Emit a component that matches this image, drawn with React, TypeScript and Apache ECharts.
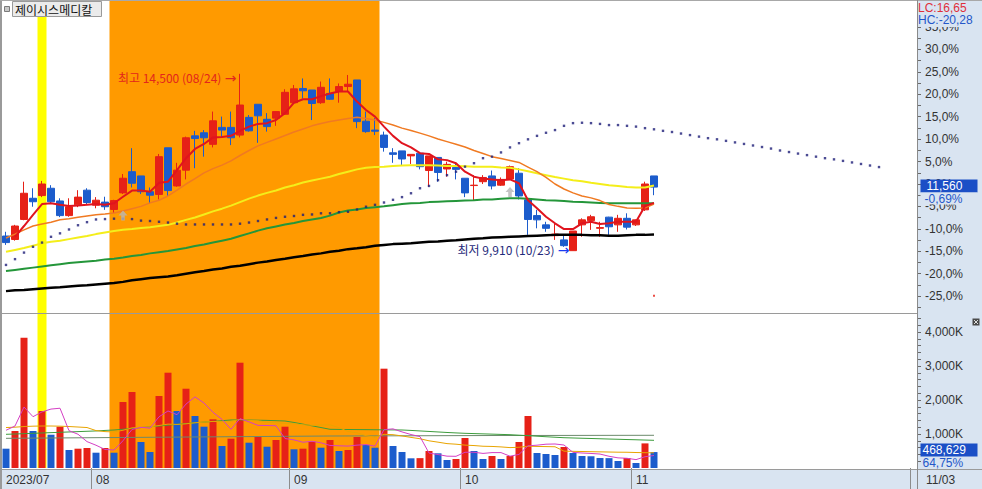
import React, { useEffect, useRef } from 'react';
import * as echarts from 'echarts';

// ---------------- data ----------------
const TITLE = '제이시스메디칼';
const YEAR = '2023';
const DATES = [
  '07/18','07/19','07/20','07/21','07/24','07/25','07/26','07/27','07/28','07/31',
  '08/01','08/02','08/03','08/04','08/07','08/08','08/09','08/10','08/11','08/14','08/16','08/17','08/18','08/21','08/22','08/23','08/24','08/25','08/28','08/29','08/30','08/31',
  '09/01','09/04','09/05','09/06','09/07','09/08','09/11','09/12','09/13','09/14','09/15','09/18','09/19','09/20','09/21','09/22','09/25','09/26','09/27',
  '10/04','10/05','10/06','10/10','10/11','10/12','10/13','10/16','10/17','10/18','10/19','10/20','10/23','10/24','10/25','10/26','10/27','10/30','10/31',
  '11/01','11/02','11/03',
];
const OPEN = [
  10290,10200,10720,11270,11340,11530,11200,10820,11100,11480,
  11090,11170,10980,11410,11960,11850,11440,11370,12580,11590,
  12000,12890,12970,12670,13110,13110,12910,13370,13710,13320,
  13350,13450,13750,14120,14080,13750,13990,14040,14170,14340,
  13270,13040,12910,12450,12500,12370,12440,11990,12330,12030,
  12070,11790,11600,11700,11850,11610,11770,11920,11230,10820,
  10580,10300,10190,9910,10580,10690,10490,10780,10580,10750,
  10580,10970,11850,
];
const CLOSE = [
  10120,10550,11400,11180,11640,11180,10820,11050,11300,11160,
  11220,11050,11210,11790,11660,11440,11350,12350,11470,12000,
  12840,12820,12840,13280,13040,12840,13690,13020,13410,13130,
  13520,14020,14110,14060,13730,14150,13840,14170,14230,13260,
  13000,13010,12590,12410,12290,12410,12090,12370,11940,12150,
  12020,11410,11610,11810,11590,11760,12090,11330,10720,10710,
  10490,10340,10040,10420,10710,10790,10510,10530,10750,10520,
  10710,11640,11560,
];
const LOW = [
  10060,10170,10700,11050,11300,11140,10780,10790,11040,11100,
  11010,10970,10890,11380,11550,11380,11140,11240,11310,11570,
  11760,12050,12350,12590,12850,12650,12850,13000,12710,13000,
  13150,13430,13730,13860,13300,13720,13820,13750,14040,13090,
  12970,12910,12480,12190,12110,12160,12020,11570,11700,11830,
  11760,11300,11220,11640,11500,11590,11740,11240,10320,10490,
  10400,10190,10010,9910,10270,10450,10270,10320,10400,10460,
  10550,10940,11350,
];
const HIGH = [
  10400,10580,11700,11530,11720,11610,11270,11270,11480,11530,
  11300,11310,11230,11900,12570,11850,11550,12420,12580,12190,
  12870,13020,13040,13520,13390,13520,14500,13430,13710,13480,
  13520,14100,14210,14380,14080,14300,14380,14250,14470,14340,
  13520,13350,13000,12570,12500,12410,12440,12370,12330,12220,
  12190,11790,11870,11870,11990,11810,12120,12050,11240,10970,
  10660,10620,10290,10420,10750,10840,10660,10790,10840,10880,
  10720,11700,11850,
];
// price moving averages
const MA5 = [
  null,10270,10550,10840,11120,11140,11100,11070,11080,11100,
  11120,11100,11140,11310,11470,11470,11440,11670,11700,12000,
  12310,12550,12680,12850,12860,12890,13020,13130,13200,13220,
  13300,13480,13750,13840,13840,13920,13990,14040,14040,13780,
  13560,13390,13130,12890,12700,12590,12440,12420,12280,12260,
  12180,11960,11830,11780,11760,11740,11760,11660,11220,11010,
  10790,10620,10470,10470,10620,10660,10600,10620,10660,10660,
  10660,11070,11150,
];
const MA20 = [
  10240,10340,10450,10550,10600,10650,10710,10740,10780,10810,
  10840,10860,10890,10940,11000,11060,11150,11220,11330,11480,
  11640,11780,11930,12040,12130,12240,12380,12510,12630,12720,
  12810,12900,12990,13070,13150,13210,13260,13300,13340,13370,
  13340,13300,13240,13170,13090,13030,12960,12890,12810,12740,
  12670,12600,12510,12430,12350,12300,12250,12200,12080,11960,
  11810,11640,11510,11410,11330,11280,11210,11110,11060,11020,
  11010,11020,11120,
];
const MA60 = [
  9880,9930,9980,10040,10100,10140,10170,10210,10250,10290,
  10340,10380,10420,10450,10470,10500,10520,10550,10580,10640,
  10710,10770,10850,10930,11000,11080,11170,11260,11340,11410,
  11470,11550,11610,11680,11730,11780,11830,11900,11960,12020,
  12060,12080,12090,12110,12120,12130,12130,12130,12120,12110,
  12110,12100,12090,12090,12090,12070,12060,12020,11970,11920,
  11870,11820,11780,11740,11710,11670,11640,11610,11590,11560,
  11550,11550,11600,
];
const MA120 = [
  9380,9410,9440,9470,9500,9530,9560,9590,9610,9630,
  9650,9680,9700,9730,9770,9800,9840,9870,9900,9940,
  9980,10030,10070,10120,10170,10220,10290,10360,10430,10490,
  10540,10590,10630,10680,10720,10760,10820,10900,10950,10980,
  11020,11040,11060,11090,11120,11140,11150,11170,11180,11190,
  11200,11210,11220,11240,11240,11260,11270,11270,11260,11240,
  11220,11210,11200,11180,11170,11160,11150,11140,11140,11140,
  11140,11140,11140,
];
const MA240 = [
  8860,8880,8890,8910,8930,8950,8960,8980,9000,9010,
  9030,9050,9070,9100,9140,9170,9200,9220,9240,9270,
  9310,9350,9380,9420,9450,9490,9520,9560,9600,9630,
  9670,9700,9740,9770,9810,9840,9880,9910,9950,9970,
  10000,10040,10060,10080,10090,10100,10120,10140,10150,10170,
  10180,10200,10220,10230,10250,10260,10270,10280,10290,10300,
  10310,10320,10320,10320,10320,10310,10310,10300,10300,10310,
  10320,10320,10330,
];
// leading dotted line (runs past the last candle)
const SPAN = [
  9540,9690,9860,10010,10120,10270,10360,10460,10570,10650,
  10720,10730,10740,10740,10730,10690,10680,10660,10640,10610,
  10590,10590,10590,10590,10590,10590,10610,10640,10680,10720,
  10760,10790,10810,10840,10850,10880,10880,10910,10920,10980,
  11050,11100,11160,11230,11300,11400,11530,11590,11740,11870,
  11960,12090,12180,12310,12350,12460,12590,12700,12800,12890,
  12970,13040,13150,13220,13230,13220,13200,13170,13170,13150,
  13130,13090,13060,13020,12990,12950,12910,12870,12830,12800,
  12760,12720,12680,12640,12600,12560,12510,12470,12430,12390,
  12350,12310,12280,12240,12200,12160,12120,12080,
];
// volume, thousands of shares
const VOLUME_K = [
  568,1088,3832,1088,1676,979,1215,529,568,588,
  450,588,450,1941,2235,765,471,2118,2803,1676,
  2332,1529,1215,1432,647,862,3097,744,921,626,
  824,1215,550,568,774,597,824,500,529,912,
  676,597,2921,647,471,285,290,500,432,235,
  265,882,500,265,353,265,353,765,1529,441,
  412,382,618,441,353,345,294,290,206,294,
  147,723.751,468.629,
];
const VOL_MA5_K = [
  1109,1235,1794,1509,1650,1733,1758,1097,993,776,
  670,545,529,803,1133,1196,1172,1506,1678,1567,
  1880,2092,1911,1637,1431,1137,1451,1356,1254,1250,
  1242,866,827,757,786,741,663,653,645,672,
  688,643,1127,1151,1062,984,923,439,396,348,
  344,463,463,429,453,453,347,400,653,671,
  700,706,676,459,441,428,410,345,298,286,
  246,332,368,
];
const VOL_MA20_K = [
  1190,1200,1220,1230,1235,1235,1230,1220,1205,1190,
  1100,1070,1060,1110,1180,1200,1210,1250,1290,1281,
  1300,1330,1350,1370,1360,1370,1430,1400,1390,1345,
  1330,1310,1300,1270,1258,1265,1268,1187,1073,1035,
  952,906,991,980,943,900,860,800,760,717,
  700,673,660,640,634,620,600,610,640,634,
  630,625,495,490,485,480,475,470,465,463,
  455,450,447,
];
const VOL_MA60_K = [
  991,1000,1010,1020,1030,1040,1050,1060,1070,1080,
  1090,1105,1118,1140,1165,1190,1212,1235,1260,1285,
  1308,1330,1350,1370,1392,1412,1415,1410,1405,1400,
  1392,1382,1340,1290,1240,1190,1138,1135,1132,1130,
  1128,1125,1122,1120,1118,1105,1090,1075,1060,1045,
  1032,1020,1012,1004,996,988,980,965,950,935,
  920,905,891,883,875,868,860,852,845,837,
  830,822,814,
];
// nearly flat line: read at a few places only
const VOL_MA120_POINTS: [number, number][] = [[0, 873], [17, 905], [36, 941], [54, 955], [72, 962]];

const ORANGE_RANGE = ['08/03', '09/14'];
const YELLOW_DAYS = ['07/24'];
const SIGNAL_DATES = ['08/04', '10/12'];
const SIGNAL_PRICES = [10820, 11430];
const DOT_DATE = '11/03';
const DOT_PRICE = 8740;
const FUTURE_SLOTS = 28;
const PCT_LABELS = [-25, -20, -15, -10, -5, 0, 5, 10, 15, 20, 25, 30, 35];
const PCT_TICKS = [-27.5, -25, -22.5, -20, -17.5, -15, -12.5, -10, -7.5, -5, -2.5, 0, 2.5, 5, 7.5, 10, 12.5, 15, 17.5, 20, 22.5, 25, 27.5, 30, 32.5, 35, 37.5, 40];
const VOL_LABELS_K = [1000, 2000, 3000, 4000];
const VOL_TICKS_K = [200, 400, 600, 800, 1000, 1200, 1400, 1600, 1800, 2000, 2200, 2400, 2600, 2800, 3000, 3200, 3400, 3600, 3800, 4000, 4200, 4400];

// ---------------- style ----------------
const RED = '#e62117';
const BLUE = '#1c5ccc';
const PANEL = '#d9e4f1';
const NUM_FONT = '"Liberation Sans", Arial, sans-serif';
const KR_FONT = '"Noto Sans CJK KR", sans-serif';

const fmtInt = (v: number) => Math.round(v).toLocaleString('en-US');
const fmtDec = (v: number, d: number) => (Math.round(v * Math.pow(10, d)) / Math.pow(10, d) + 0).toFixed(d).replace('.', ',');

function buildOption() {
  const N = DATES.length;
  const CATS = DATES.concat(Array.from({ length: FUTURE_SLOTS }, (_, k) => '+' + (k + 1)));
  const BASE = CLOSE[N - 2];
  const LAST = CLOSE[N - 1];
  const pctToPrice = (p: number) => BASE * (1 + p / 100);
  const PRICE_MIN = pctToPrice(-28.76);
  const PRICE_MAX = pctToPrice(41.03);
  const maxHigh = Math.max(...HIGH);
  const minLow = Math.min(...LOW);
  const iMax = HIGH.indexOf(maxHigh);
  const iMin = LOW.indexOf(minLow);
  const lc = (LAST / minLow - 1) * 100;
  const hc = (LAST / maxHigh - 1) * 100;
  const chg = (LAST / BASE - 1) * 100;
  const lastVol = VOLUME_K[N - 1];
  const volRatio = (lastVol / VOLUME_K[N - 2]) * 100;

  const isMonthStart = (index: number) =>
    index < N && (index === 0 || DATES[index].slice(0, 2) !== DATES[index - 1].slice(0, 2));

  const grid = { left: 1.5, width: 909 };
  const candle = DATES.map((_, i) => [OPEN[i], CLOSE[i], LOW[i], HIGH[i]]);
  const volData = VOLUME_K.map((v, i) => ({
    value: v,
    itemStyle: { color: i > 0 && v > VOLUME_K[i - 1] ? RED : BLUE },
  }));
  const ma120 = DATES.map(() => null as number | null);
  VOL_MA120_POINTS.forEach(([i, v]) => (ma120[i] = v));

  const oS = DATES.indexOf(ORANGE_RANGE[0]);
  const oE = DATES.indexOf(ORANGE_RANGE[1]);
  const areas: any[] = [
    [{ xAxis: oS - 0.5, itemStyle: { color: '#ff9a00', opacity: 1 } }, { xAxis: oE + 0.5 }],
    ...YELLOW_DAYS.map((d) => {
      const k = DATES.indexOf(d);
      return [{ xAxis: k - 0.5, itemStyle: { color: '#ffff00', opacity: 1 } }, { xAxis: k + 0.5 }];
    }),
  ];

  const line = (data: any[], color: string, width: number, x = 0, z = 6, extra: any = {}) => ({
    type: 'line', xAxisIndex: x, yAxisIndex: x, data, showSymbol: false, symbol: 'none', silent: true, z,
    lineStyle: { color, width }, ...extra,
  });

  const hiddenLine = { color: 'rgba(0,0,0,0)', width: 0, opacity: 1 };

  return {
    animation: false,
    grid: [
      { ...grid, top: 0, height: 313 },
      { ...grid, top: 315, height: 153 },
      { ...grid, top: 0, height: 468 },
    ],
    xAxis: [
      { type: 'category', gridIndex: 0, data: CATS, boundaryGap: true, show: false },
      {
        type: 'category', gridIndex: 1, data: CATS, boundaryGap: true,
        axisLine: { show: false },
        axisTick: { show: true, interval: isMonthStart, length: 21, lineStyle: { color: '#8c8c8c' } },
        axisLabel: {
          interval: isMonthStart, align: 'left', margin: 5.5, fontSize: 12, color: '#333', fontFamily: NUM_FONT,
          formatter: (v: string, idx: number) => (idx === 0 ? `${YEAR}/${v.slice(0, 2)}` : v.slice(0, 2)),
        },
      },
      { type: 'value', gridIndex: 2, min: -0.5, max: CATS.length - 0.5, show: false },
    ],
    yAxis: [
      {
        type: 'value', gridIndex: 0, position: 'right', offset: 6.5, min: PRICE_MIN, max: PRICE_MAX, scale: true,
        splitLine: { show: false }, axisLine: { show: false },
        axisTick: { show: true, length: 4, customValues: PCT_TICKS.map(pctToPrice), lineStyle: { color: '#6a6a6a' } },
        axisLabel: {
          customValues: PCT_LABELS.map(pctToPrice), margin: 8, fontSize: 12, color: '#333', fontFamily: NUM_FONT,
          formatter: (v: number) => fmtDec((v / BASE - 1) * 100, 1) + '%',
        },
      },
      {
        type: 'value', gridIndex: 1, position: 'right', offset: 6.5, min: 0, max: 4500,
        splitLine: { show: false }, axisLine: { show: false },
        axisTick: { show: true, length: 4, customValues: VOL_TICKS_K, lineStyle: { color: '#6a6a6a' } },
        axisLabel: {
          customValues: VOL_LABELS_K, margin: 8, fontSize: 12, color: '#333', fontFamily: NUM_FONT,
          formatter: (v: number) => fmtInt(v) + 'K',
        },
      },
      { type: 'value', gridIndex: 2, min: 0, max: 1, show: false },
    ],
    series: [
      {
        type: 'line', xAxisIndex: 2, yAxisIndex: 2, data: [], silent: true, z: 1,
        markArea: { silent: true, data: areas },
      },
      {
        type: 'candlestick', xAxisIndex: 0, yAxisIndex: 0, data: candle, barWidth: 7, z: 5, silent: true,
        itemStyle: { color: RED, color0: BLUE, borderColor: RED, borderColor0: BLUE, borderWidth: 1 },
        markPoint: {
          silent: true, symbol: 'circle', symbolSize: 1, itemStyle: { color: 'rgba(0,0,0,0)' },
          data: [
            {
              coord: [DATES[iMax], maxHigh],
              label: {
                show: true, position: 'left', distance: 3, offset: [0, 4],
                formatter: `{t|최고 ${fmtInt(maxHigh)} (${DATES[iMax]})} {a|→}`,
                rich: {
                  t: { color: '#e3261c', fontSize: 12, fontFamily: KR_FONT },
                  a: { color: '#e3261c', fontSize: 14, fontFamily: '"DejaVu Sans", sans-serif' },
                },
              },
            },
            {
              coord: [DATES[iMin], minLow],
              label: {
                show: true, position: 'left', distance: 3, offset: [0, -1],
                formatter: `{t|최저 ${fmtInt(minLow)} (${DATES[iMin]})} {a|→}`,
                rich: {
                  t: { color: '#1f2a7a', fontSize: 12, fontFamily: KR_FONT },
                  a: { color: '#1a3cf0', fontSize: 14, fontFamily: '"DejaVu Sans", sans-serif' },
                },
              },
            },
          ],
        },
        markLine: {
          silent: true, symbol: ['none', 'none'], lineStyle: hiddenLine,
          data: [{ yAxis: LAST }],
          label: {
            show: true, position: 'end', distance: 10, offset: [0, 5],
            formatter: `{a|${fmtInt(LAST)}}\n{b|${fmtDec(chg, 2)}%}`,
            rich: {
              a: { color: '#ffffff', backgroundColor: '#1b4fc6', width: 51, height: 13, lineHeight: 13, padding: [0, 0, 0, 6], fontSize: 12, fontFamily: NUM_FONT },
              b: { color: '#2457c9', backgroundColor: PANEL, width: 53, height: 12, lineHeight: 12, padding: [0, 0, 0, 4], fontSize: 12, fontFamily: NUM_FONT },
            },
          },
        },
      },
      line(MA240, '#000000', 2.5),
      line(MA120, '#24963a', 2),
      line(MA60, '#f4ee1a', 2),
      line(MA20, '#f07a22', 1.5),
      line(MA5, '#e0141e', 2),
      {
        type: 'scatter', xAxisIndex: 0, yAxisIndex: 0, data: SPAN, symbol: 'rect', symbolSize: 2.4, silent: true, z: 7,
        itemStyle: { color: '#1e1e78' },
      },
      {
        type: 'scatter', xAxisIndex: 0, yAxisIndex: 0, silent: true, z: 7,
        data: SIGNAL_DATES.map((d, i) => [d, SIGNAL_PRICES[i]]),
        symbol: 'path://M5 0 L10 5 L7 5 L7 10 L3 10 L3 5 L0 5 Z', symbolSize: [9, 10],
        itemStyle: { color: '#b6b6b6' },
      },
      {
        type: 'scatter', xAxisIndex: 0, yAxisIndex: 0, silent: true, z: 7,
        data: [[DOT_DATE, DOT_PRICE]], symbol: 'rect', symbolSize: [2, 2], itemStyle: { color: RED },
      },
      {
        type: 'bar', xAxisIndex: 1, yAxisIndex: 1, data: volData, barWidth: 7, silent: true, z: 5,
        markLine: {
          silent: true, symbol: ['none', 'none'], lineStyle: hiddenLine,
          data: [{ yAxis: lastVol }],
          label: {
            show: true, position: 'end', distance: 10, offset: [0, 4],
            formatter: `{a|${fmtInt(lastVol * 1000)}}\n{b|${fmtDec(volRatio, 2)}%}`,
            rich: {
              a: { color: '#ffffff', backgroundColor: '#1b4fc6', width: 55, height: 13, lineHeight: 13, padding: [0, 0, 0, 2], fontSize: 12, fontFamily: NUM_FONT },
              b: { color: '#2457c9', width: 55, height: 12, lineHeight: 12, padding: [0, 0, 0, 2], fontSize: 12, fontFamily: NUM_FONT },
            },
          },
        },
      },
      line(ma120, '#6c8a6c', 1, 1, 6, { connectNulls: true }),
      line(VOL_MA60_K, '#3c9c3c', 1, 1),
      line(VOL_MA20_K, '#e8a400', 1, 1),
      line(VOL_MA5_K, '#d43fc4', 1, 1),
    ],
    graphic: [
      { type: 'rect', z: -10, silent: true, shape: { x: 917, y: 0, width: 65, height: 489 }, style: { fill: PANEL } },
      { type: 'rect', z: -10, silent: true, shape: { x: 0, y: 469, width: 982, height: 20 }, style: { fill: PANEL } },
      { type: 'rect', z: 50, silent: true, shape: { x: 0, y: 0, width: 2, height: 489 }, style: { fill: '#9a9a9a' } },
      { type: 'line', z: 50, silent: true, shape: { x1: 0, y1: 0.5, x2: 982, y2: 0.5 }, style: { stroke: '#a8a8a8', lineWidth: 1 } },
      { type: 'line', z: 50, silent: true, shape: { x1: 0, y1: 313.5, x2: 917, y2: 313.5 }, style: { stroke: '#9a9a9a', lineWidth: 1 } },
      { type: 'line', z: 50, silent: true, shape: { x1: 0, y1: 469.5, x2: 982, y2: 469.5 }, style: { stroke: '#9a9a9a', lineWidth: 1 } },
      { type: 'line', z: 50, silent: true, shape: { x1: 917.5, y1: 0, x2: 917.5, y2: 489 }, style: { stroke: '#8a8a8a', lineWidth: 1 } },
      { type: 'rect', z: 50, silent: true, shape: { x: 4.5, y: 6.5, width: 5, height: 5 }, style: { fill: '#c8c8c8', stroke: '#7a7a7a', lineWidth: 1 } },
      { type: 'rect', z: 50, silent: true, shape: { x: 12.5, y: 1.5, width: 89, height: 15 }, style: { fill: '#ebebeb', stroke: '#9a9a9a', lineWidth: 1 } },
      { type: 'text', z: 51, silent: true, x: 15, y: 9.5, style: { text: TITLE, fill: '#111', font: `12px ${KR_FONT}`, verticalAlign: 'middle' } },
      { type: 'rect', z: 50, silent: true, shape: { x: 918, y: 1, width: 64, height: 26 }, style: { fill: PANEL } },
      { type: 'text', z: 51, silent: true, x: 918, y: 7.5, style: { text: `LC:${fmtDec(lc, 2)}`, fill: '#e0303a', font: `12px ${NUM_FONT}`, verticalAlign: 'middle' } },
      { type: 'text', z: 51, silent: true, x: 918, y: 20, style: { text: `HC:${fmtDec(hc, 2)}`, fill: '#2457c9', font: `12px ${NUM_FONT}`, verticalAlign: 'middle' } },
      { type: 'text', z: 51, silent: true, x: 926, y: 480, style: { text: DATES[N - 1], fill: '#333', font: `12px ${NUM_FONT}`, verticalAlign: 'middle' } },
      { type: 'rect', z: 51, silent: true, shape: { x: 972.5, y: 318.5, width: 7, height: 7 }, style: { fill: '#4a4a4a' } },
      { type: 'line', z: 52, silent: true, shape: { x1: 974, y1: 320, x2: 978, y2: 324 }, style: { stroke: '#dddddd', lineWidth: 1 } },
      { type: 'line', z: 52, silent: true, shape: { x1: 978, y1: 320, x2: 974, y2: 324 }, style: { stroke: '#dddddd', lineWidth: 1 } },
    ],
  };
}

export default function App() {
  const ref = useRef<HTMLDivElement>(null);
  useEffect(() => {
    if (!ref.current) return;
    const chart = echarts.init(ref.current, null, { renderer: 'svg' });
    chart.setOption(buildOption() as any);
    return () => chart.dispose();
  }, []);
  return (
    <div
      ref={ref}
      style={{ position: 'fixed', left: 0, top: 0, width: 982, height: 489, background: '#ffffff' }}
    />
  );
}
